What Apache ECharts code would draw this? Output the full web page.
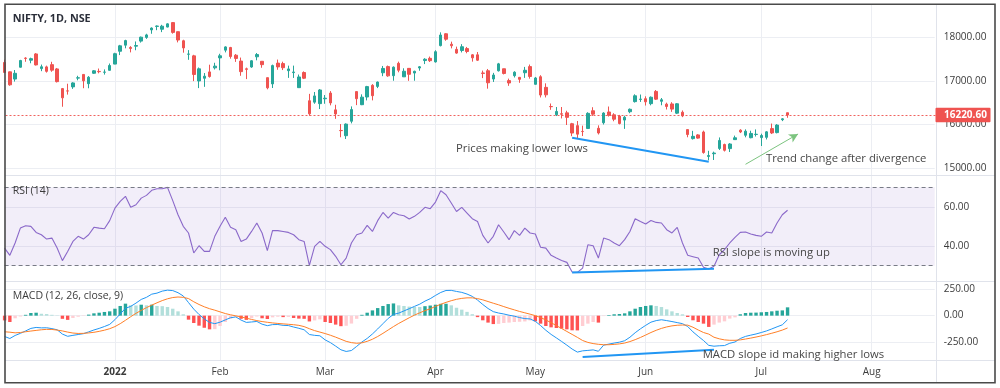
<!DOCTYPE html>
<html><head><meta charset="utf-8">
<script src="https://cdn.jsdelivr.net/npm/echarts@6/dist/echarts.min.js"></script>
<style>html,body{margin:0;padding:0;background:#fff}#c{width:1000px;height:388px}</style>
</head><body><div id="c"></div>
<script>
const dates = [
'2021-12-03','2021-12-06','2021-12-07','2021-12-08','2021-12-09','2021-12-10','2021-12-13','2021-12-14','2021-12-15','2021-12-16','2021-12-17','2021-12-20','2021-12-21','2021-12-22','2021-12-23','2021-12-24','2021-12-27','2021-12-28','2021-12-29','2021-12-30','2021-12-31',
'2022-01-03','2022-01-04','2022-01-05','2022-01-06','2022-01-07','2022-01-10','2022-01-11','2022-01-12','2022-01-13','2022-01-14','2022-01-17','2022-01-18','2022-01-19','2022-01-20','2022-01-21','2022-01-24','2022-01-25','2022-01-27','2022-01-28','2022-01-31',
'2022-02-01','2022-02-02','2022-02-03','2022-02-04','2022-02-07','2022-02-08','2022-02-09','2022-02-10','2022-02-11','2022-02-14','2022-02-15','2022-02-16','2022-02-17','2022-02-18','2022-02-21','2022-02-22','2022-02-23','2022-02-24','2022-02-25','2022-02-28',
'2022-03-02','2022-03-03','2022-03-04','2022-03-07','2022-03-08','2022-03-09','2022-03-10','2022-03-11','2022-03-14','2022-03-15','2022-03-16','2022-03-17','2022-03-21','2022-03-22','2022-03-23','2022-03-24','2022-03-25','2022-03-28','2022-03-29','2022-03-30','2022-03-31',
'2022-04-01','2022-04-04','2022-04-05','2022-04-06','2022-04-07','2022-04-08','2022-04-11','2022-04-12','2022-04-13','2022-04-18','2022-04-19','2022-04-20','2022-04-21','2022-04-22','2022-04-25','2022-04-26','2022-04-27','2022-04-28','2022-04-29',
'2022-05-02','2022-05-04','2022-05-05','2022-05-06','2022-05-09','2022-05-10','2022-05-11','2022-05-12','2022-05-13','2022-05-16','2022-05-17','2022-05-18','2022-05-19','2022-05-20','2022-05-23','2022-05-24','2022-05-25','2022-05-26','2022-05-27','2022-05-30','2022-05-31',
'2022-06-01','2022-06-02','2022-06-03','2022-06-06','2022-06-07','2022-06-08','2022-06-09','2022-06-10','2022-06-13','2022-06-14','2022-06-15','2022-06-16','2022-06-17','2022-06-20','2022-06-21','2022-06-22','2022-06-23','2022-06-24','2022-06-27','2022-06-28','2022-06-29','2022-06-30',
'2022-07-01','2022-07-04','2022-07-05','2022-07-06','2022-07-07','2022-07-08'];
const futureDates = ['2022-07-11','2022-07-12','2022-07-13','2022-07-14','2022-07-15','2022-07-18','2022-07-19','2022-07-20','2022-07-21','2022-07-22','2022-07-25','2022-07-26','2022-07-27','2022-07-28','2022-07-29','2022-08-01','2022-08-02','2022-08-03','2022-08-04','2022-08-05','2022-08-08','2022-08-09','2022-08-10','2022-08-11','2022-08-12','2022-08-15','2022-08-16','2022-08-17'];

const opens = [17424,17209,17044,17315,17524,17476,17619,17283,17323,17374,17276,16825,16773,16865,17066,17150,16938,17177,17220,17201,17244,
17387,17681,17820,17768,17797,17913,17998,18170,18250,18185,18235,18337,18129,17921,17613,17575,17001,17062,17208,17301,
17529,17706,17767,17590,17456,17279,17320,17554,17451,17076,16933,17409,17398,17236,17192,16847,17194,16548,16515,16481,
16593,16723,16339,15867,15747,16078,16757,16457,16633,16900,16876,17188,17329,17121,17405,17095,17289,17182,17297,17468,17519,
17437,17810,18081,17842,17724,17698,17741,17599,17599,17183,17234,17045,17234,17280,17009,17121,17083,17189,17329,
16924,17097,16854,16415,16227,16249,16270,16021,15977,15845,15912,16318,15917,16043,16290,16225,16196,16105,16296,16527,16578,
16594,16481,16761,16535,16469,16474,16263,16284,15887,15680,15765,15832,15272,15334,15455,15545,15451,15657,15874,15757,15701,15775,
15703,15710,15909,15818,16113,16273];
const highs = [17489,17216,17251,17484,17543,17534,17639,17376,17351,17440,17298,16840,16937,16971,17119,17156,17112,17250,17285,17265,17400,
17646,17827,17944,17797,17905,18017,18081,18227,18272,18286,18321,18350,18130,17944,17707,17599,17309,17182,17373,17417,
17623,17794,17781,17617,17536,17306,17477,17640,17454,17077,17375,17490,17442,17351,17352,17148,17220,16705,16748,16815,
16678,16768,16456,16014,16028,16418,16757,16694,16888,16927,16987,17344,17353,17334,17443,17291,17296,17236,17343,17522,17559,
17704,18114,18095,17901,17787,17843,17779,17615,17663,17238,17275,17186,17414,17281,17054,17223,17092,17322,17377,
17092,17132,16946,16484,16404,16404,16318,16041,16083,15977,16284,16399,15984,16284,16415,16262,16223,16205,16370,16695,16690,
16649,16646,16793,16610,16503,16514,16492,16325,15887,15858,15783,15863,15401,15382,15707,15565,15577,15749,15895,15892,15861,15891,
15793,15852,16025,16012,16150,16275];
const lows = [17180,16891,16987,17308,17440,17406,17355,17225,17192,17211,16966,16410,16688,16819,17015,16834,16833,17161,17176,17146,17238,
17384,17593,17748,17655,17704,17879,17964,18081,18163,18119,18228,18084,17884,17648,17485,16997,16837,16866,17077,17264,
17245,17655,17511,17437,17119,17043,17302,17473,17303,16809,16839,17257,17250,17071,17070,16843,17044,16203,16478,16357,
16478,16442,16133,15711,15671,16029,16447,16447,16555,16556,16837,17110,17096,17006,17199,17091,17004,17006,17235,17387,17435,
17422,17792,17921,17747,17623,17654,17635,17443,17457,17066,16824,16978,17216,17150,16889,17080,16958,17071,17053,
16917,16623,16623,16340,16197,16142,15992,15736,15671,15739,15900,16200,15775,16003,16185,16078,16006,15903,16262,16506,16521,
16438,16443,16567,16444,16347,16293,16243,16172,15711,15659,15678,15335,15183,15191,15419,15385,15373,15651,15807,15710,15688,15728,
15511,15661,15785,15800,16081,16157];
const closes = [17196,16912,17176,17469,17517,17511,17368,17325,17221,17248,16985,16614,16770,16955,17073,17004,17086,17233,17213,17204,17354,
17625,17805,17925,17745,17812,18003,18055,18212,18258,18255,18308,18113,17938,17757,17617,17149,17278,17110,17102,17340,
17577,17780,17560,17516,17214,17266,17463,17605,17374,16843,17352,17322,17304,17276,17206,17092,17063,16248,16658,16794,
16606,16498,16245,15863,16013,16345,16594,16630,16871,16663,16975,17287,17117,17316,17246,17223,17153,17222,17325,17498,17465,
17670,18053,17957,17807,17639,17784,17675,17530,17476,17174,16959,17137,17392,17172,16954,17201,17038,17245,17103,
17069,16678,16683,16411,16302,16240,16167,15808,15782,15842,16259,16240,15809,16266,16215,16125,16026,16170,16352,16661,16585,
16523,16628,16584,16570,16416,16356,16478,16202,15774,15732,15692,15361,15293,15350,15638,15413,15557,15699,15832,15850,15799,15780,
15752,15835,15810,15990,16133,16220.6];

const rsi = [39.0,35.3,41.6,49.2,50.4,50.1,47.0,45.8,43.6,44.1,39.0,32.6,37.3,42.4,45.0,43.6,45.8,49.6,49.2,48.9,
53.0,59.4,62.8,65.4,59.8,61.1,64.5,65.9,68.5,69.3,69.3,70.0,63.2,56.0,50.1,46.7,36.5,40.2,37.3,37.3,
45.0,50.1,54.7,49.6,48.4,42.4,43.6,47.5,51.8,46.7,37.7,48.0,47.9,47.5,47.0,45.8,43.3,42.4,30.2,39.9,
42.4,39.9,38.2,34.8,30.5,33.9,41.6,45.8,46.7,50.6,47.5,53.0,57.2,54.3,57.2,56.0,55.5,53.8,55.2,57.2,
59.8,59.1,62.5,68.3,66.2,62.0,57.7,59.8,56.9,54.0,52.6,45.5,41.6,45.0,50.9,47.2,43.3,47.9,45.5,49.2,
46.7,46.2,39.4,39.0,35.3,33.9,32.7,31.7,26.8,26.6,28.8,40.7,40.2,33.9,44.1,43.3,41.6,40.2,43.3,47.5,
54.0,52.6,51.3,53.1,52.1,51.8,48.4,46.7,49.6,41.6,35.3,34.6,33.9,29.2,28.3,29.7,35.6,38.2,41.6,44.5,
47.0,47.2,46.2,45.5,45.0,47.2,46.7,51.8,56.0,58.3];

const macd = [-198,-217,-188,-168,-145,-121,-112,-116,-115,-123,-134,-175,-196,-187,-179,-171,-154,-136,-121,-103,
-83,-38,16,70,88,119,154,174,204,214,233,242,238,218,187,124,62,11,-31,-64,
-76,-62,-40,-20,-12,-42,-64,-60,-55,-81,-95,-85,-84,-92,-94,-108,-120,-134,-179,-187,
-191,-230,-256,-289,-324,-340,-331,-292,-250,-216,-174,-126,-76,-26,12,24,45,66,88,109,
138,161,192,220,239,240,230,221,205,183,148,106,68,38,25,16,4,-5,-18,-28,
-31,-54,-94,-139,-178,-211,-245,-280,-317,-346,-334,-330,-325,-338,-280,-270,-260,-252,-238,-205,
-162,-125,-92,-62,-47,-39,-47,-56,-66,-76,-103,-154,-196,-236,-282,-290,-286,-284,-262,-250,
-217,-197,-185,-174,-160,-145,-126,-106,-87,-38];
const signal = [-153,-157,-163,-160,-153,-146,-140,-134,-130,-131,-137,-145,-156,-165,-169,-168,-164,-158,-149,-138,
-124,-104,-76,-44,-10,22,50,76,100,122,143,160,172,177,174,162,132,106,84,66,
52,36,20,8,-2,-12,-24,-36,-47,-56,-63,-69,-74,-78,-82,-86,-92,-104,-124,-142,
-156,-170,-186,-204,-224,-244,-256,-262,-258,-244,-224,-198,-168,-136,-104,-74,-47,-20,5,27,
48,65,88,108,126,142,155,164,169,169,162,150,134,118,103,86,70,55,40,27,
14,0,-18,-41,-67,-94,-122,-150,-178,-206,-236,-254,-265,-272,-276,-276,-273,-268,-260,-246,
-228,-207,-184,-160,-139,-121,-107,-97,-91,-89,-90,-110,-136,-160,-175,-205,-220,-230,-234,-234,
-230,-222,-213,-203,-192,-180,-167,-153,-137,-117];
const hist = [-45,-60,-25,-8,8,25,28,18,15,8,3,-30,-40,-22,-10,-3,10,22,28,35,
41,66,92,114,98,97,104,98,104,92,90,82,66,41,13,-38,-70,-95,-115,-130,
-128,-98,-60,-28,-10,-30,-40,-24,-8,-25,-32,-16,-10,-14,-12,-22,-28,-30,-55,-45,
-35,-60,-70,-85,-100,-96,-75,-30,8,28,50,72,92,110,116,98,92,86,83,82,
90,96,104,112,113,98,75,57,36,14,-14,-44,-66,-80,-78,-70,-66,-60,-58,-55,
-45,-54,-76,-98,-111,-117,-123,-130,-139,-140,-98,-76,-60,-66,-4,6,13,16,22,41,
66,82,92,98,92,82,60,41,25,13,-13,-44,-60,-76,-107,-85,-66,-54,-28,-16,
13,25,28,29,32,35,41,47,50,79];

const tickDates = ['2022-01-03','2022-02-01','2022-03-02','2022-04-01','2022-05-02','2022-06-01','2022-07-01','2022-08-01'];
const tickLabels = ['2022','Feb','Mar','Apr','May','Jun','Jul','Aug'];
const priceTicks = [15000,16000,17000,18000];
const rsiTicks = [40,60];
const macdTicks = [-250,0,250];
const lastPrice = 16220.60;
const priceTrend = [['2022-05-12',15701],['2022-06-17',15151]];
const trendArrow = [['2022-06-28',15092],['2022-07-12',15786]];
const rsiTrend = [['2022-05-12',26.6],['2022-06-20',28.5]];
const macdTrend = [['2022-05-16',-392],['2022-06-20',-323]];

const FONT = "'Open Sans','Noto Sans',sans-serif";
const AX = '#3b3b3b';
const GRIDC = '#eceef3';
const cats = dates.concat(futureDates);
const monthSet = new Set(tickDates);
const GL = 4.6, GR = 65.3;

function xAx(gi, showLabel) {
  return {
    type: 'category', gridIndex: gi, data: cats, boundaryGap: false,
    axisLine: {show: false}, axisTick: {show: false},
    axisLabel: {
      show: showLabel, interval: (i, v) => monthSet.has(v), margin: 7,
      color: AX, fontSize: 10, fontFamily: FONT,
      formatter: v => { const k = tickDates.indexOf(v); if (k < 0) return ''; return k === 0 ? '{b|' + tickLabels[k] + '}' : tickLabels[k]; },
      rich: {b: {fontWeight: 'bold', fontSize: 10, fontFamily: FONT, color: AX}}
    },
    splitLine: {show: true, interval: (i, v) => monthSet.has(v), lineStyle: {color: GRIDC, width: 1}}
  };
}
function yAx(gi, min, max, ticks) {
  return {
    type: 'value', gridIndex: gi, position: 'right', min: min, max: max, scale: true,
    axisLine: {show: false},
    axisTick: {show: false, customValues: ticks},
    axisLabel: {customValues: ticks, formatter: v => v.toFixed(2), margin: 9, color: AX, fontSize: 10, fontFamily: FONT},
    splitLine: {show: true, lineStyle: {color: GRIDC, width: 1}}
  };
}

const histData = hist.map((v, i) => {
  const prev = i > 0 ? hist[i - 1] : v;
  let c;
  if (v >= 0) c = prev < v ? '#26a69a' : '#b2dfdb';
  else c = prev < v ? '#ffcdd2' : '#ff5252';
  return {value: v, itemStyle: {color: c}};
});

const blueLine = {color: '#2196f3', width: 2, type: 'solid'};
const TXT = '#474747';

const baseGraphic = [
  {type: 'line', silent: true, shape: {x1: 5, y1: 175.5, x2: 995, y2: 175.5}, style: {stroke: '#e0e3eb', lineWidth: 1}, z: 50},
  {type: 'line', silent: true, shape: {x1: 5, y1: 281.5, x2: 995, y2: 281.5}, style: {stroke: '#e0e3eb', lineWidth: 1}, z: 50},
  {type: 'line', silent: true, shape: {x1: 5, y1: 360.5, x2: 995, y2: 360.5}, style: {stroke: '#e0e3eb', lineWidth: 1}, z: 50},
  {type: 'line', silent: true, shape: {x1: 936.5, y1: 4, x2: 936.5, y2: 383}, style: {stroke: '#e0e3eb', lineWidth: 1}, z: 50},
  {type: 'rect', silent: true, shape: {x: 5, y: 4.3, width: 990, height: 378.4}, style: {fill: 'none', stroke: '#4a4a4a', lineWidth: 1.6}, z: 200},
  {type: 'text', silent: true, x: 12.7, y: 19, style: {text: 'NIFTY, 1D, NSE', fill: '#2a2e39', fontSize: 10.8, fontWeight: 'bold', fontFamily: FONT, verticalAlign: 'middle'}, z: 60},
  {type: 'text', silent: true, x: 12.7, y: 190.7, style: {text: 'RSI (14)', fill: '#3b3b3b', fontSize: 10.5, fontFamily: FONT, verticalAlign: 'middle'}, z: 60},
  {type: 'text', silent: true, x: 12.7, y: 296, style: {text: 'MACD (12, 26, close, 9)', fill: '#3b3b3b', fontSize: 10.5, fontFamily: FONT, verticalAlign: 'middle'}, z: 60},
  {type: 'text', silent: true, x: 456, y: 148.3, style: {text: 'Prices making lower lows', fill: TXT, fontSize: 11.3, fontFamily: FONT, verticalAlign: 'middle'}, z: 60},
  {type: 'text', silent: true, x: 766, y: 158.3, style: {text: 'Trend change after divergence', fill: TXT, fontSize: 11.3, fontFamily: FONT, verticalAlign: 'middle'}, z: 60},
  {type: 'text', silent: true, x: 712.7, y: 253, style: {text: 'RSI slope is moving up', fill: TXT, fontSize: 11.3, fontFamily: FONT, verticalAlign: 'middle'}, z: 60},
  {type: 'text', silent: true, x: 702.7, y: 354.7, style: {text: 'MACD slope id making higher lows', fill: TXT, fontSize: 11.3, fontFamily: FONT, verticalAlign: 'middle'}, z: 60}
];

const option = {
  animation: false,
  backgroundColor: '#ffffff',
  grid: [
    {left: GL, right: GR, top: 5, height: 170},
    {left: GL, right: GR, top: 175, height: 106},
    {left: GL, right: GR, top: 281, height: 79}
  ],
  xAxis: [xAx(0, false), xAx(1, false), xAx(2, true)],
  yAxis: [yAx(0, 14847, 18740, priceTicks), yAx(1, 22.2, 76.3, rsiTicks), yAx(2, -421, 329, macdTicks)],
  series: [
    {
      type: 'candlestick', xAxisIndex: 0, yAxisIndex: 0, barWidth: 3,
      data: opens.map((o, i) => [o, closes[i], lows[i], highs[i]]),
      itemStyle: {color: '#26a69a', color0: '#ef5350', borderColor: '#26a69a', borderColor0: '#ef5350', borderWidth: 1},
      markLine: {
        silent: true, symbol: ['none', 'none'], animation: false, label: {show: false},
        data: [
          [{coord: priceTrend[0], lineStyle: blueLine}, {coord: priceTrend[1]}],
          [{coord: trendArrow[0], lineStyle: {color: '#7cc47f', width: 1, type: 'solid'}}, {coord: trendArrow[1], symbol: 'arrow', symbolSize: [7, 9]}]
        ]
      }
    },
    {
      type: 'line', xAxisIndex: 1, yAxisIndex: 1, data: rsi, showSymbol: false,
      lineStyle: {color: '#8a68c9', width: 1.1}, z: 3,
      markArea: {silent: true, itemStyle: {color: 'rgba(126,87,194,0.1)'}, data: [[{yAxis: 30}, {yAxis: 70}]]},
      markLine: {
        silent: true, symbol: ['none', 'none'], animation: false, label: {show: false},
        lineStyle: {color: '#787b86', type: [4, 3], width: 1},
        data: [
          {yAxis: 70, lineStyle: {color: '#787b86', type: [4, 3], width: 1}},
          {yAxis: 30, lineStyle: {color: '#787b86', type: [4, 3], width: 1}},
          [{coord: rsiTrend[0], lineStyle: blueLine}, {coord: rsiTrend[1]}]
        ]
      }
    },
    {type: 'bar', xAxisIndex: 2, yAxisIndex: 2, data: histData, barWidth: 3.4},
    {
      type: 'line', xAxisIndex: 2, yAxisIndex: 2, data: macd, showSymbol: false,
      lineStyle: {color: '#2196f3', width: 1}, z: 3,
      markLine: {
        silent: true, symbol: ['none', 'none'], animation: false, label: {show: false},
        lineStyle: blueLine,
        data: [[{coord: macdTrend[0], lineStyle: blueLine}, {coord: macdTrend[1]}]]
      }
    },
    {type: 'line', xAxisIndex: 2, yAxisIndex: 2, data: signal, showSymbol: false, lineStyle: {color: '#ff7f27', width: 1}, z: 3}
  ],
  graphic: baseGraphic
};

const chart = echarts.init(document.getElementById('c'));
chart.setOption(option);
const py = chart.convertToPixel({yAxisIndex: 0}, lastPrice);
const pyLine = Math.round(py) + 0.5;
chart.setOption({graphic: baseGraphic.concat([
  {type: 'line', silent: true, shape: {x1: 5.5, y1: pyLine, x2: 936, y2: pyLine}, style: {stroke: '#f0625e', lineWidth: 1, lineDash: [2, 2]}, z: 1},
  {type: 'rect', silent: true, shape: {x: 935.5, y: py - 7.2, width: 55, height: 14.4, r: 1}, style: {fill: '#ef5350'}, z: 150},
  {type: 'text', silent: true, x: 944, y: py + 0.3, style: {text: lastPrice.toFixed(2), fill: '#ffffff', fontSize: 10, fontWeight: 'bold', fontFamily: FONT, verticalAlign: 'middle'}, z: 151}
])});
</script>
</body></html>
